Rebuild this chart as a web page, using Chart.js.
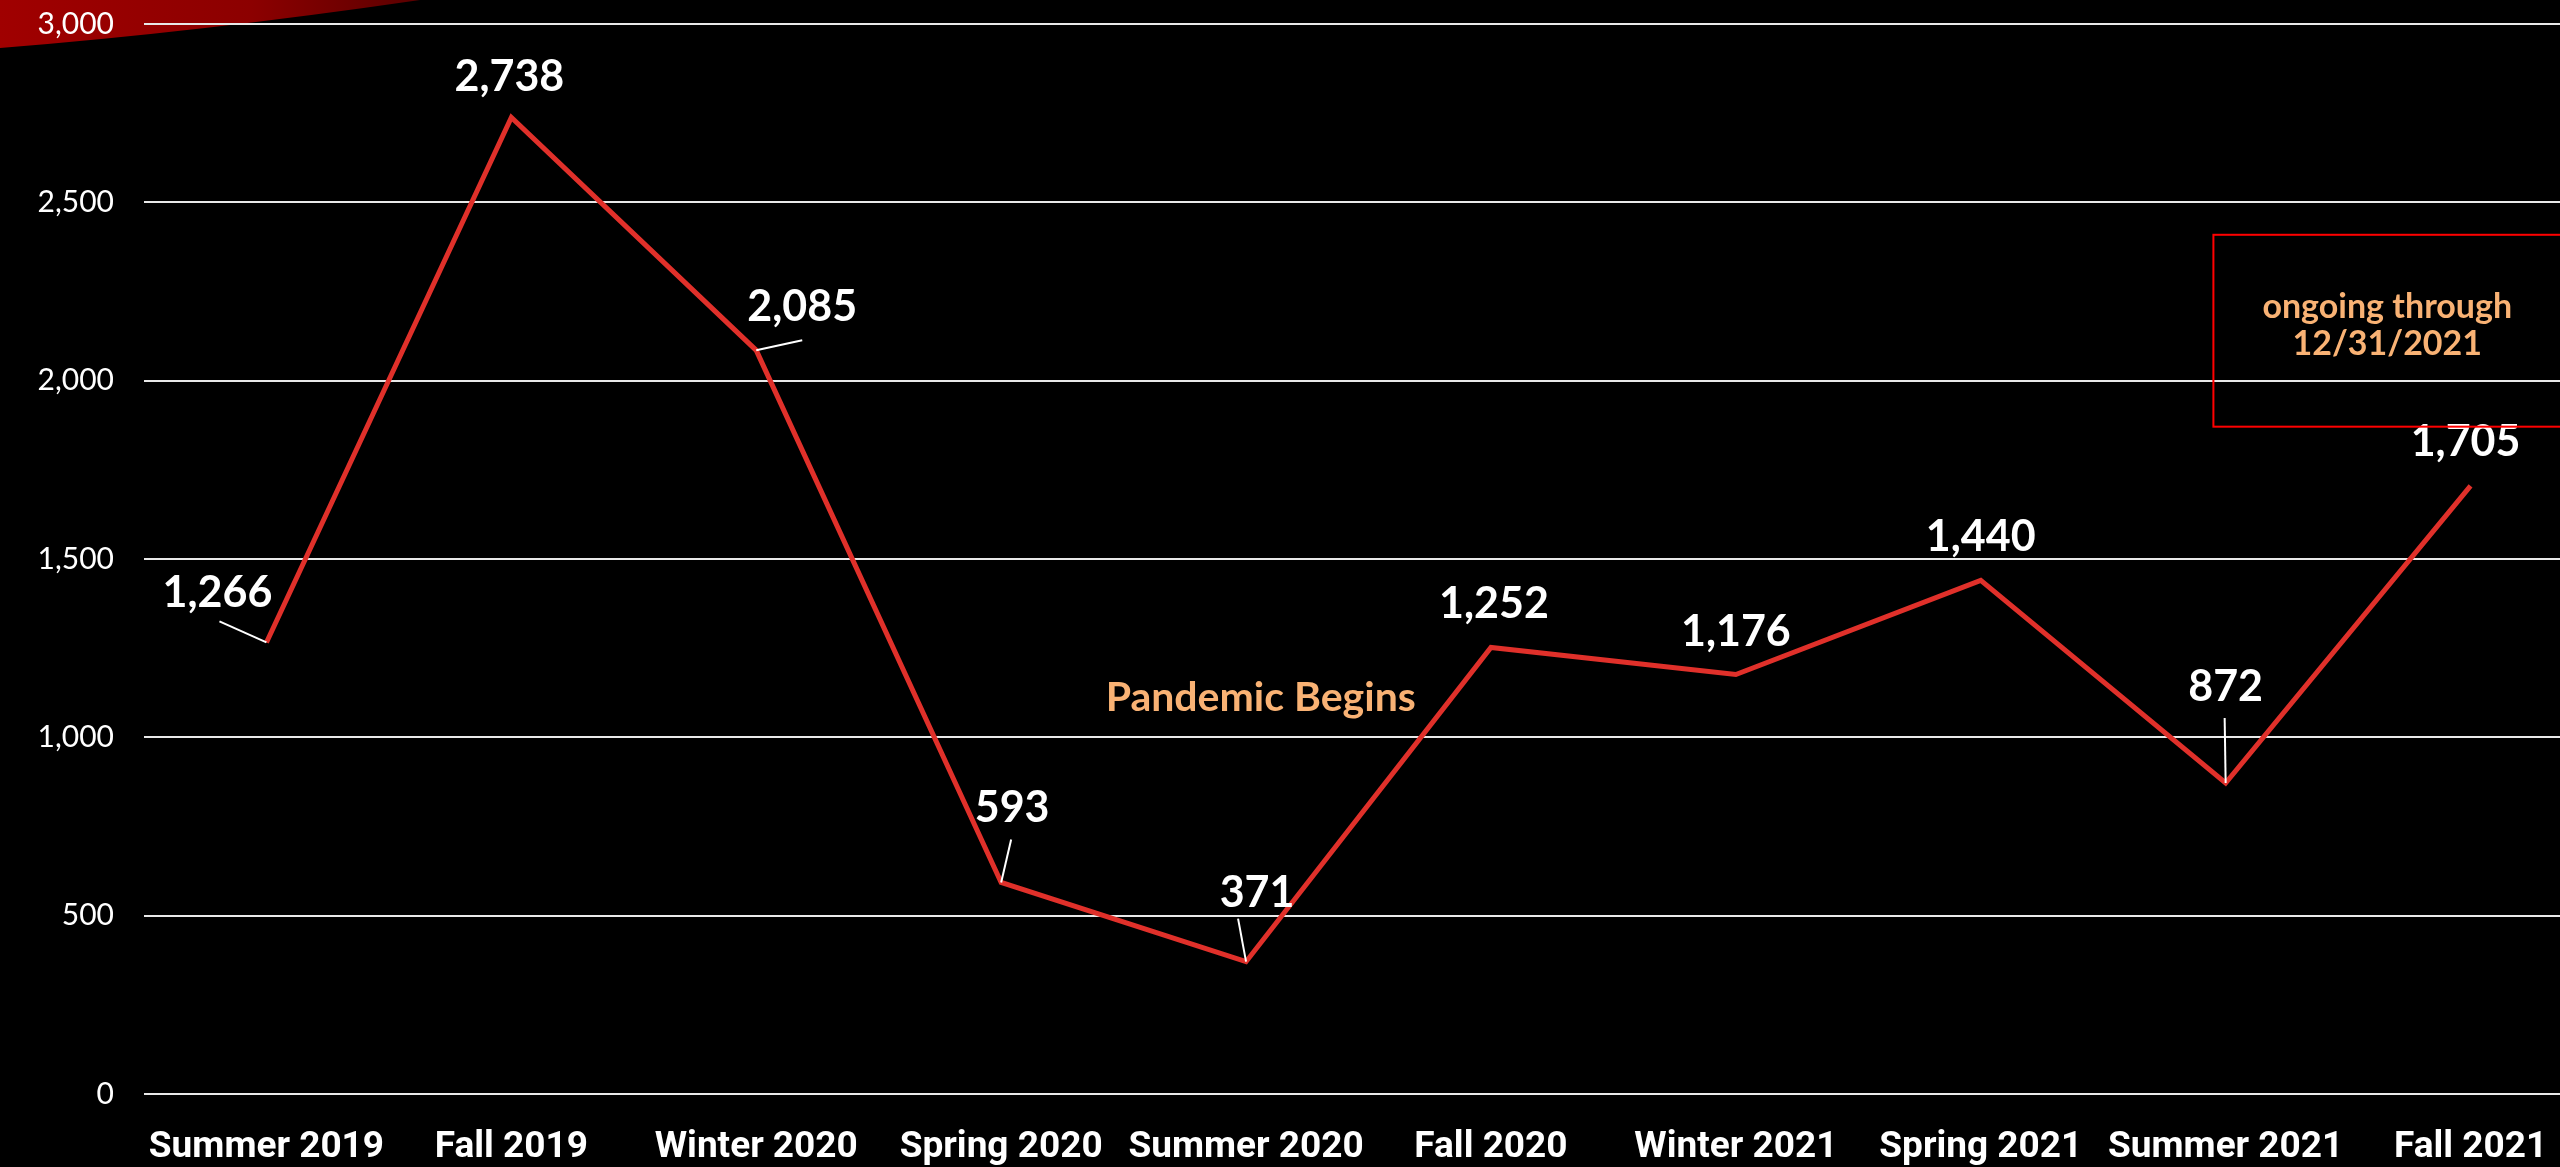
<!DOCTYPE html>
<html>
<head>
<meta charset="utf-8">
<script src="https://cdn.jsdelivr.net/npm/chart.js@4"></script>
<style>
  html, body { margin: 0; padding: 0; background: #000; overflow: hidden; }
  #wrap { position: relative; top: -24px; width: 2600px; height: 1191px; }
</style>
</head>
<body>
<div id="wrap"><canvas id="myChart"></canvas></div>
<script>
// data
var terms = ['Summer 2019', 'Fall 2019', 'Winter 2020', 'Spring 2020', 'Summer 2020',
  'Fall 2020', 'Winter 2021', 'Spring 2021', 'Summer 2021', 'Fall 2021'];
var counts = [1266, 2738, 2085, 593, 371, 1252, 1176, 1440, 872, 1705];
var yTicks = [0, 500, 1000, 1500, 2000, 2500, 3000];

// label placement (pixels from the point), and optional leader line end
var labelOffsets = [[-49, -49], [-2, -40], [46, -43], [11, -74], [11, -69],
  [3, -43], [0, -42], [0, -43], [0, -96], [-5, -44]];
var leaderEnds = [[-47, -21], null, [46, -10], [10, -43], [-8, -43],
  null, null, null, [-1, -65], null];

var peach = '#f9b274';

//- red swoosh in the corner + annotations -
var decorPlugin = {
  id: 'decor',
  beforeDraw: function(chart) {
    var ctx = chart.ctx;
    ctx.save();
    ctx.fillStyle = '#000';
    ctx.fillRect(0, 0, chart.width, chart.height);
    // canvas starts 24px above the page, so shift the swoosh down
    ctx.translate(0, 24);
    var g = ctx.createLinearGradient(0, 0, 420, 0);
    g.addColorStop(0, '#a00000');
    g.addColorStop(0.6, '#8c0000');
    g.addColorStop(1, '#5a0000');
    ctx.fillStyle = g;
    ctx.beginPath();
    ctx.moveTo(0, -24);
    ctx.lineTo(420, -24);
    ctx.lineTo(420, 0);
    ctx.quadraticCurveTo(200, 32, 0, 48);
    ctx.closePath();
    ctx.fill();
    ctx.restore();
  },
  afterDatasetsDraw: function(chart) {
    var ctx = chart.ctx;
    var xs = chart.scales.x, ys = chart.scales.y;
    var meta = chart.getDatasetMeta(0);
    ctx.save();

    // value labels and leader lines
    ctx.strokeStyle = '#ffffff';
    ctx.lineWidth = 2;
    ctx.fillStyle = '#ffffff';
    ctx.font = 'bold 43px Lato';
    ctx.textAlign = 'center';
    ctx.textBaseline = 'middle';
    meta.data.forEach(function(pt, i) {
      var le = leaderEnds[i];
      if (le) {
        ctx.beginPath();
        ctx.moveTo(pt.x, pt.y);
        ctx.lineTo(pt.x + le[0], pt.y + le[1]);
        ctx.stroke();
      }
      var off = labelOffsets[i];
      ctx.fillText(counts[i].toLocaleString('en-US'), pt.x + off[0], pt.y + off[1]);
    });

    // "Pandemic Begins"
    ctx.fillStyle = peach;
    ctx.font = 'bold 41px Lato';
    ctx.fillText('Pandemic Begins', xs.getPixelForValue(4.06), ys.getPixelForValue(1112));

    // ongoing box
    var bx = xs.getPixelForValue(7.95), by = ys.getPixelForValue(2409);
    var bx2 = chart.chartArea.right, by2 = ys.getPixelForValue(1871);
    ctx.strokeStyle = '#ff0000';
    ctx.lineWidth = 2;
    ctx.strokeRect(bx, by, bx2 - bx, by2 - by);
    ctx.font = 'bold 34px Lato';
    var tx = xs.getPixelForValue(8.66);
    ctx.fillText('ongoing through', tx, ys.getPixelForValue(2207));
    ctx.fillText('12/31/2021', tx, ys.getPixelForValue(2103));
    ctx.restore();
  }
};

var ctx = document.getElementById('myChart').getContext('2d');
new Chart(ctx, {
  type: 'line',
  data: {
    labels: terms,
    datasets: [{
      data: counts,
      borderColor: '#e0302a',
      borderWidth: 5,
      pointRadius: 0,
      tension: 0,
      fill: false
    }]
  },
  options: {
    responsive: true,
    maintainAspectRatio: false,
    animation: false,
    layout: { padding: { top: 0, right: 7, left: 0, bottom: 0 } },
    plugins: {
      legend: { display: false },
      tooltip: { enabled: false }
    },
    scales: {
      x: {
        offset: true,
        grid: { display: false, drawTicks: false },
        border: { display: false },
        ticks: {
          color: '#ffffff',
          padding: 32,
          maxRotation: 0,
          autoSkip: false,
          font: { family: 'Roboto', weight: 'bold', size: 37 }
        },
        afterFit: function(scale) { scale.height = 73; }
      },
      y: {
        min: 0,
        max: 3000,
        afterBuildTicks: function(scale) {
          scale.ticks = yTicks.map(function(v) { return { value: v }; });
        },
        grid: { color: '#e8e8e8', lineWidth: 2, drawTicks: false },
        border: { display: false },
        ticks: {
          color: '#ffffff',
          padding: 30,
          font: { family: 'Lato', size: 30 },
          callback: function(v) { return v.toLocaleString('en-US'); }
        },
        afterFit: function(scale) { scale.width = 144; }
      }
    }
  },
  plugins: [decorPlugin]
});
</script>
</body>
</html>
